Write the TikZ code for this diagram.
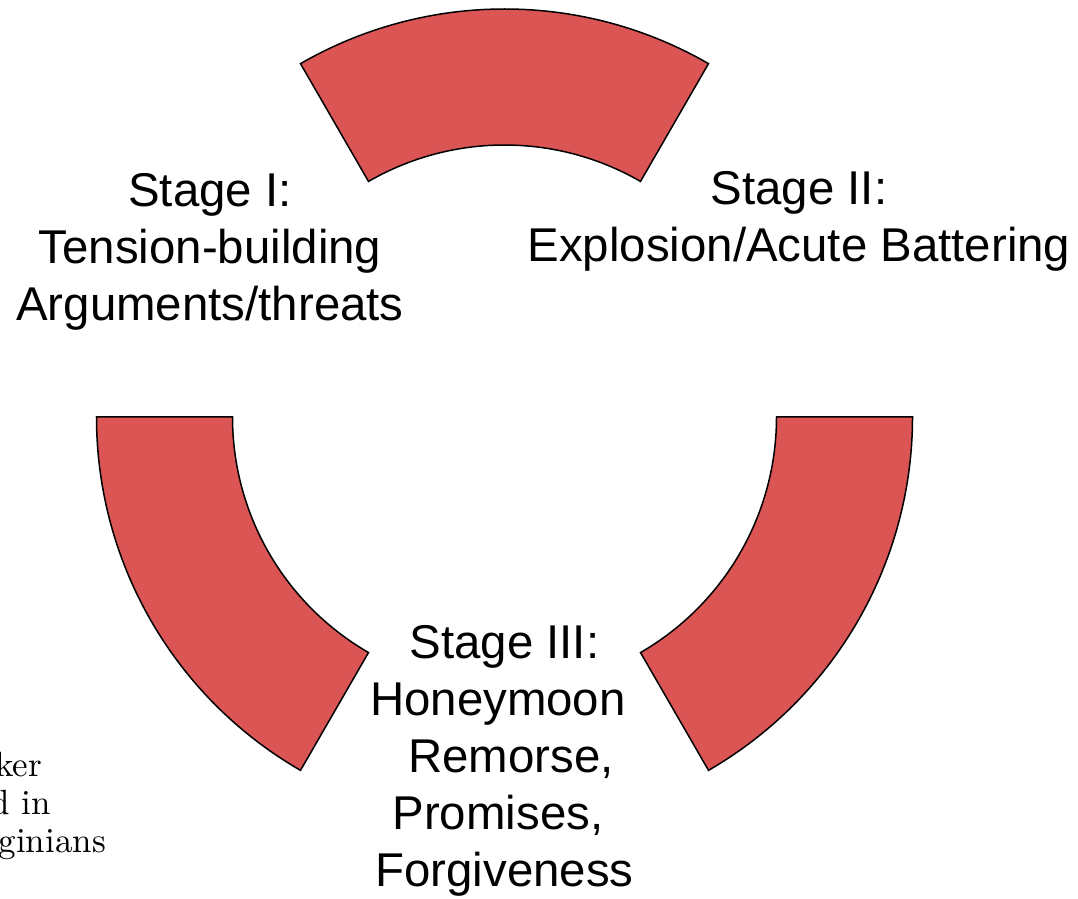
\documentclass[tikz,border=0pt]{standalone}
\usepackage{fontspec}
\setmainfont{Latin Modern Roman}
\newfontfamily\labelfont{Liberation Sans}
\newfontfamily\notefont{lmroman10-regular.otf}
\usetikzlibrary{calc}
\definecolor{arcred}{RGB}{219,85,85}
\tikzset{
  arcseg/.style={fill=arcred, draw=black, line width=1.5pt, line join=miter},
  stagelabel/.style={align=center, inner sep=0pt, font=\labelfont\fontsize{47.4pt}{57pt}\selectfont},
  cutnote/.style={anchor=base east, inner sep=0pt, font=\notefont\fontsize{35pt}{38pt}\selectfont}
}
\begin{document}
\begin{tikzpicture}[x=1pt,y=1pt]
\useasboundingbox (0,0) rectangle (1078,898);
\coordinate (C) at (504.5,481);
% top segment
\path[arcseg] ($(C)+(60:408pt)$) arc[start angle=60,end angle=120,radius=408pt]
  -- ($(C)+(120:272pt)$) arc[start angle=120,end angle=60,radius=272pt] -- cycle;
% bottom-left segment
\path[arcseg] ($(C)+(180:408pt)$) arc[start angle=180,end angle=240,radius=408pt]
  -- ($(C)+(240:272pt)$) arc[start angle=240,end angle=180,radius=272pt] -- cycle;
% bottom-right segment
\path[arcseg] ($(C)+(300:408pt)$) arc[start angle=300,end angle=360,radius=408pt]
  -- ($(C)+(0:272pt)$) arc[start angle=360,end angle=300,radius=272pt] -- cycle;

\node[stagelabel] (s1) at (210,646.5) {Stage I:\\Tension-building\\Arguments/threats};
\node[stagelabel] (s2) at (799,677) {Stage II:\\Explosion/Acute Battering};
\node[stagelabel] (s3) at (504.5,137.5) {Stage III:\\Honeymoon\hphantom{\ }\\\hphantom{\ }Remorse,\\Promises,\hphantom{\ }\\Forgiveness};

\node[cutnote] (n1) at (42,122) {ker};
\node[cutnote] (n2) at (51,84) {d in};
\node[cutnote] (n3) at (106,46) {ginians};
\end{tikzpicture}
\end{document}
